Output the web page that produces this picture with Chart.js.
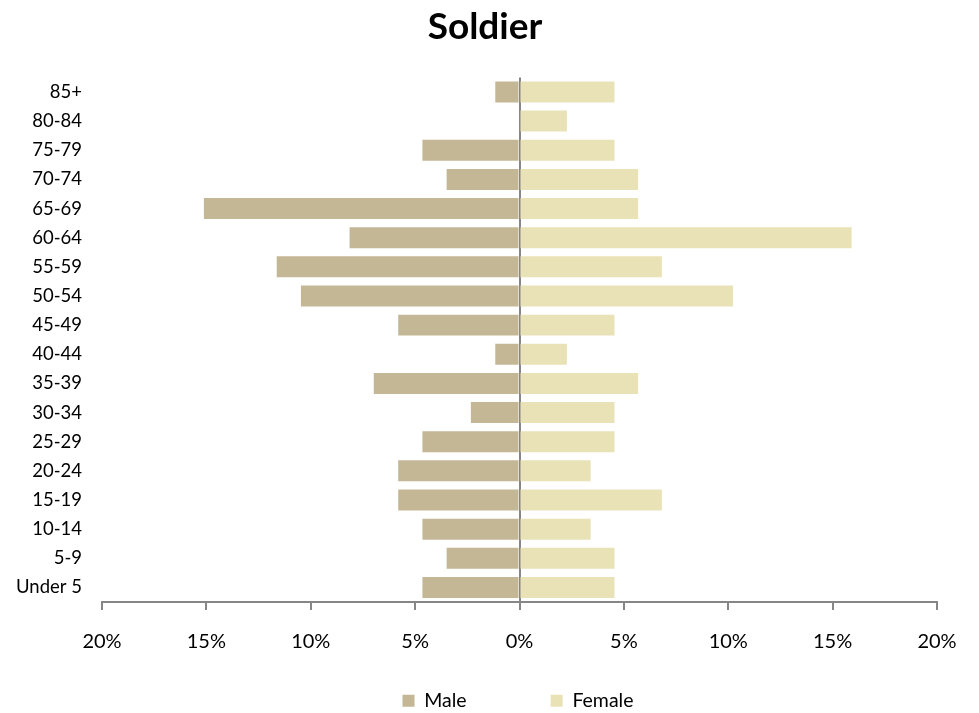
<!DOCTYPE html>
<html>
<head>
<meta charset="utf-8">
<script src="https://cdn.jsdelivr.net/npm/chart.js@4.4.0/dist/chart.umd.min.js"></script>
<style>
    html, body { margin: 0; padding: 0; background: #ffffff; }
    #wrap { width: 979px; height: 713px; }
</style>
</head>
<body>
<div id="wrap"><canvas id="pyramid"></canvas></div>
<script>
"use strict"

// age groups, top row first
let ageGroups = ["85+", "80-84", "75-79", "70-74", "65-69", "60-64", "55-59", "50-54", "45-49",
                 "40-44", "35-39", "30-34", "25-29", "20-24", "15-19", "10-14", "5-9", "Under 5"]

// percent of total, male shown to the left (negative)
let maleValues = [1.16, 0, 4.65, 3.49, 15.12, 8.14, 11.63, 10.47, 5.81,
                  1.16, 6.98, 2.33, 4.65, 5.81, 5.81, 4.65, 3.49, 4.65]
let femaleValues = [4.55, 2.27, 4.55, 5.68, 5.68, 15.91, 6.82, 10.23, 4.55,
                    2.27, 5.68, 4.55, 4.55, 3.41, 6.82, 3.41, 4.55, 4.55]

let xTicks = [-20, -15, -10, -5, 0, 5, 10, 15, 20]

const fontName = "Lato"
const axisGray = "#868686"

// the wide legend padding also pushes the items down, so move the legend box up (and a bit right)
const legendShift = {
    id: "legendShift",
    afterLayout(chart) {
        let lg = chart.legend
        lg.top -= 67
        lg.bottom -= 67
        lg.left += 33
        lg.right += 33
    }
}

let ctx = document.getElementById("pyramid").getContext("2d")

let pyramidChart = new Chart(ctx, {
    type: "bar",
    data: {
        labels: ageGroups,
        datasets: [{
            label: "Male",
            data: maleValues.map(v => -v),
            backgroundColor: "#c4b795",
            barPercentage: 0.72,
            categoryPercentage: 1
        }, {
            label: "Female",
            data: femaleValues,
            backgroundColor: "#e9e2b7",
            barPercentage: 0.72,
            categoryPercentage: 1
        }]
    },
    plugins: [legendShift],
    options: {
        indexAxis: "y",
        responsive: true,
        maintainAspectRatio: false,
        animation: false,
        layout: {
            padding: { left: 0, right: 9, top: 0, bottom: -74.5 }
        },
        scales: {
            x: {
                min: -20,
                max: 20,
                afterBuildTicks: scale => {
                    scale.ticks = xTicks.map(v => ({ value: v }))
                },
                afterFit: scale => { scale.paddingRight = 42 },
                border: { display: true, color: axisGray, width: 2 },
                grid: {
                    color: c => c.tick && c.tick.value === 0 ? axisGray : "rgba(0,0,0,0)",
                    lineWidth: 2,
                    drawOnChartArea: true,
                    tickLength: 8,
                    tickColor: axisGray,
                    tickWidth: 2
                },
                ticks: {
                    padding: 20,
                    color: "#000000",
                    font: { family: fontName, size: 20 },
                    callback: value => Math.abs(value) + "%"
                }
            },
            y: {
                stacked: true,
                border: { display: false },
                grid: { display: false, drawTicks: false },
                afterFit: scale => { scale.width = 102 },
                ticks: {
                    padding: 20,
                    color: "#000000",
                    font: { family: fontName, size: 18.5 }
                }
            }
        },
        plugins: {
            title: {
                display: true,
                text: "Soldier",
                color: "#000000",
                font: { family: fontName, size: 37, weight: "bold" },
                padding: { top: 5, bottom: 28 }
            },
            legend: {
                position: "bottom",
                labels: {
                    color: "#000000",
                    font: { family: fontName, size: 19.5 },
                    boxWidth: 12,
                    boxHeight: 12,
                    padding: 84
                }
            },
            tooltip: { enabled: false }
        }
    }
})
</script>
</body>
</html>
